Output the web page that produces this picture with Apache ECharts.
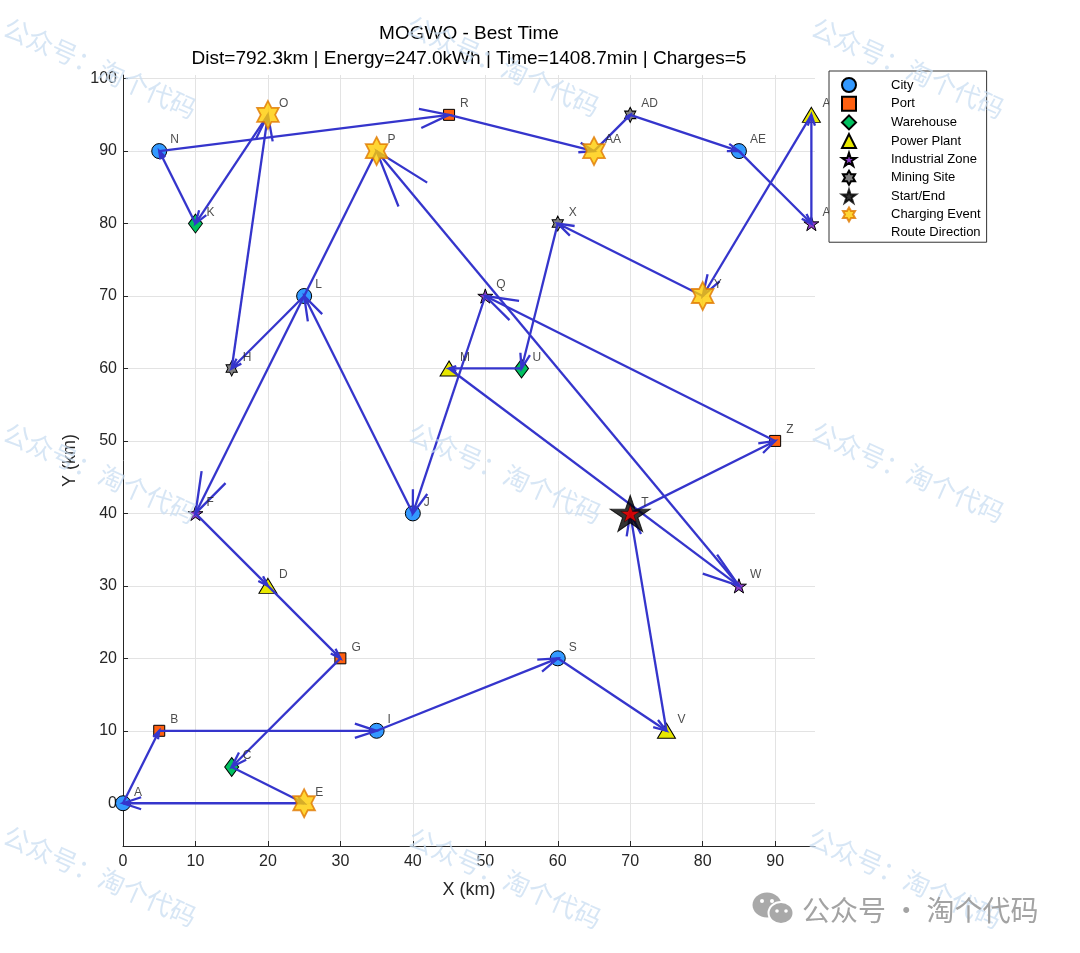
<!DOCTYPE html>
<html><head><meta charset="utf-8">
<script src="https://cdn.jsdelivr.net/npm/echarts@6/dist/echarts.min.js"></script>
<style>html,body{margin:0;padding:0;background:#fff}#c{width:1080px;height:953px}</style>
</head><body><div id="c"></div>
<script>
// ---------------- data ----------------
const nodeNames = ['A','B','C','D','E','F','G','H','I','J','K','L','M','N','O','P','Q','R','S','T','U','V','W','X','Y','Z','AA','AB','AC','AD','AE'];
const nodeX = [0,5,15,20,25,10,30,15,35,40,10,25,45,5,20,35,50,45,60,70,55,75,85,60,80,90,65,95,95,70,85];
const nodeY = [0,10,5,30,0,40,20,60,10,40,80,70,60,90,95,90,70,95,20,40,60,10,30,80,70,50,90,95,80,95,90];
const cityNodes = ['A','I','J','L','N','S','AE'];
const portNodes = ['B','G','R','Z'];
const warehouseNodes = ['C','K','U'];
const powerNodes = ['D','M','V','AB'];
const industrialNodes = ['F','Q','W','AC'];
const miningNodes = ['H','X','AD'];
const startNodes = ['T'];
const chargeNodes = ['E','O','P','AA','Y'];
const routeOrder = ['T','Z','Q','J','L','H','O','K','N','R','AA','AD','AE','AC','AB','Y','X','U','M','W','P','F','D','G','C','E','A','B','I','S','V','T'];
const xTicks = [0,10,20,30,40,50,60,70,80,90];
const yTicks = [0,10,20,30,40,50,60,70,80,90,100];
const titleLines = ['MOGWO - Best Time','Dist=792.3km | Energy=247.0kWh | Time=1408.7min | Charges=5'];

// ---------------- helpers ----------------
const idx = {}; nodeNames.forEach((n,i)=>idx[n]=i);
const pts = names => names.map(n => [nodeX[idx[n]], nodeY[idx[n]], n]);
function starPath(n, rIn){
  let d='';
  for(let i=0;i<2*n;i++){
    const r = i%2===0?1:rIn, a=-Math.PI/2+i*Math.PI/n;
    d += (i===0?'M':'L')+(r*Math.cos(a)).toFixed(4)+' '+(r*Math.sin(a)).toFixed(4)+' ';
  }
  return 'path://'+d+'Z';
}
const PENT = starPath(5,0.382), HEX = starPath(6,0.577);
const edges = [];
for(let i=0;i<routeOrder.length-1;i++){
  const a=idx[routeOrder[i]], b=idx[routeOrder[i+1]];
  edges.push([nodeX[a],nodeY[a],nodeX[b],nodeY[b]]);
}
const FONT = '"Liberation Sans", Arial, Helvetica, sans-serif';
const ROUTE = '#3535cc';

function typeSeries(name, names, symbol, size, color){
  return {name, type:'scatter', data:pts(names), symbol, symbolSize:size, symbolKeepAspect:true,
    itemStyle:{color, borderColor:'#000', borderWidth:1, opacity:1}, z:2, silent:true, animation:false};
}

const chart = echarts.init(document.getElementById('c'), null, {renderer:'canvas'});

const wmCenters = [[100,68],[503,66],[908,68],[100,473],[505,473],[908,472],[100,876],[505,878],[905,878]];
const graphics = wmCenters.map(c => ({type:'text', x:c[0], y:c[1], rotation:-24*Math.PI/180, z:100, silent:true,
  style:{text:'公众号：淘个代码', fontSize:26, fontFamily:'"Noto Sans CJK SC", sans-serif', fill:'#c9def2', opacity:0.75, align:'center', verticalAlign:'middle'}}));
graphics.push(
  {type:'ellipse', shape:{cx:767,cy:905,rx:14.5,ry:12.5}, style:{fill:'#a9a9a9'}, z:101, silent:true},
  {type:'ellipse', shape:{cx:781,cy:913,rx:12.5,ry:11}, style:{fill:'#a9a9a9', stroke:'#fff', lineWidth:2}, z:102, silent:true},
  {type:'circle', shape:{cx:762,cy:901,r:2}, style:{fill:'#fff'}, z:103, silent:true},
  {type:'circle', shape:{cx:772,cy:901,r:2}, style:{fill:'#fff'}, z:101, silent:true},
  {type:'circle', shape:{cx:777,cy:911,r:1.8}, style:{fill:'#fff'}, z:103, silent:true},
  {type:'circle', shape:{cx:786,cy:911,r:1.8}, style:{fill:'#fff'}, z:103, silent:true},
  {type:'text', x:802, y:910, z:101, silent:true, style:{text:'公众号 · 淘个代码', fontSize:28, fontFamily:'"Noto Sans CJK SC", sans-serif', fill:'#a3a3a3', align:'left', verticalAlign:'middle'}}
);

const option = {
  backgroundColor:'#fff',
  animation:false,
  textStyle:{fontFamily:FONT},
  title:{text:titleLines.join('\n'), left:469, top:21, textAlign:'center', padding:0,
    textStyle:{fontSize:19, fontWeight:'normal', color:'#000', lineHeight:25, fontFamily:FONT}},
  grid:{left:123, right:265, top:75, bottom:107, containLabel:false, outerBoundsMode:'none'},
  xAxis:{type:'value', min:0, max:95.5, name:'X (km)', nameLocation:'middle', nameGap:35,
    nameTextStyle:{fontSize:18, color:'#262626', fontFamily:FONT},
    axisLine:{show:true, onZero:false, lineStyle:{color:'#262626', width:1}},
    axisTick:{show:true, inside:true, length:5, customValues:xTicks, lineStyle:{color:'#262626'}},
    axisLabel:{customValues:xTicks, fontSize:16, color:'#262626', margin:8, fontFamily:FONT},
    splitLine:{show:true, lineStyle:{color:'#e3e3e3', width:1}}},
  yAxis:{type:'value', min:-5.9, max:100.5, name:'Y (km)', nameLocation:'middle', nameGap:41, nameRotate:90,
    nameTextStyle:{fontSize:18, color:'#262626', fontFamily:FONT},
    axisLine:{show:true, onZero:false, lineStyle:{color:'#262626', width:1}},
    axisTick:{show:true, inside:true, length:5, customValues:yTicks, lineStyle:{color:'#262626'}},
    axisLabel:{customValues:yTicks, fontSize:16, color:'#262626', margin:6, fontFamily:FONT},
    splitLine:{show:true, lineStyle:{color:'#e3e3e3', width:1}}},
  legend:{orient:'vertical', left:829, top:71, padding:[6,6,3,12], itemGap:2.7, itemWidth:14, itemHeight:14,
    symbolKeepAspect:true,
    backgroundColor:'#fff', borderColor:'#333', borderWidth:1, z:10, selectedMode:false,
    textStyle:{fontSize:13, color:'#000', padding:[0,0,0,30], lineHeight:14, fontFamily:FONT},
    data:['City','Port','Warehouse','Power Plant','Industrial Zone','Mining Site','Start/End','Charging Event',
      {name:'Route Direction', icon:'rect', itemStyle:{color:'rgba(0,0,0,0)', borderColor:'rgba(0,0,0,0)', borderWidth:0}}]},
  graphic:graphics,
  series:[
    typeSeries('City', cityNodes, 'circle', 15, '#3399ff'),
    typeSeries('Port', portNodes, 'rect', 11, '#ff6010'),
    typeSeries('Warehouse', warehouseNodes, 'diamond', [14,19], '#00c060'),
    typeSeries('Power Plant', powerNodes, 'triangle', [18,15], '#e8e800'),
    typeSeries('Industrial Zone', industrialNodes, PENT, 15, '#8c3cc8'),
    typeSeries('Mining Site', miningNodes, HEX, [13,15], '#808080'),
    {name:'Route Direction', type:'custom', data:edges, encode:{x:[0,2], y:[1,3]}, z:3, silent:true, animation:false,
      itemStyle:{color:ROUTE},
      renderItem:function(params, api){
        const p1 = api.coord([api.value(0), api.value(1)]);
        const p2 = api.coord([api.value(2), api.value(3)]);
        const u = p2[0]-p1[0], v = p2[1]-p1[1], al = 0.1, be = 0.33;
        const h1 = [p2[0]-al*(u+be*v), p2[1]-al*(v-be*u)];
        const h2 = [p2[0]-al*(u-be*v), p2[1]-al*(v+be*u)];
        const st = {stroke:ROUTE, lineWidth:2.3, fill:null, lineJoin:'miter'};
        return {type:'group', children:[
          {type:'line', shape:{x1:p1[0], y1:p1[1], x2:p2[0], y2:p2[1]}, style:st},
          {type:'polyline', shape:{points:[h1,p2,h2]}, style:st}
        ]};
      }},
    {name:'Start/End', type:'scatter', data:pts(startNodes), symbol:PENT, symbolSize:[40,38], symbolKeepAspect:true,
      itemStyle:{color:'#000', borderColor:'#000', borderWidth:1}, z:4, silent:true, animation:false},
    {name:'StartInner', type:'scatter', data:pts(startNodes), symbol:PENT, symbolSize:[19,18], symbolKeepAspect:true,
      itemStyle:{color:'#ff0000', borderColor:'#000', borderWidth:0.5}, z:5, silent:true, animation:false},
    {name:'Charging Event', type:'scatter', data:pts(chargeNodes), symbol:HEX, symbolSize:[25,28], symbolKeepAspect:true,
      itemStyle:{color:'#ffcc00', borderColor:'#e07800', borderWidth:1.8}, z:4, silent:true, animation:false},
    {name:'Labels', type:'scatter', data:pts(nodeNames), symbolSize:1, itemStyle:{color:'rgba(0,0,0,0)'}, z:6, silent:true, animation:false,
      label:{show:true, position:'inside', align:'left', verticalAlign:'middle', offset:[11,-11],
        formatter:p=>p.value[2], fontSize:12, color:'#222', fontFamily:FONT}}
  ]
};
chart.setOption(option);
</script></body></html>
